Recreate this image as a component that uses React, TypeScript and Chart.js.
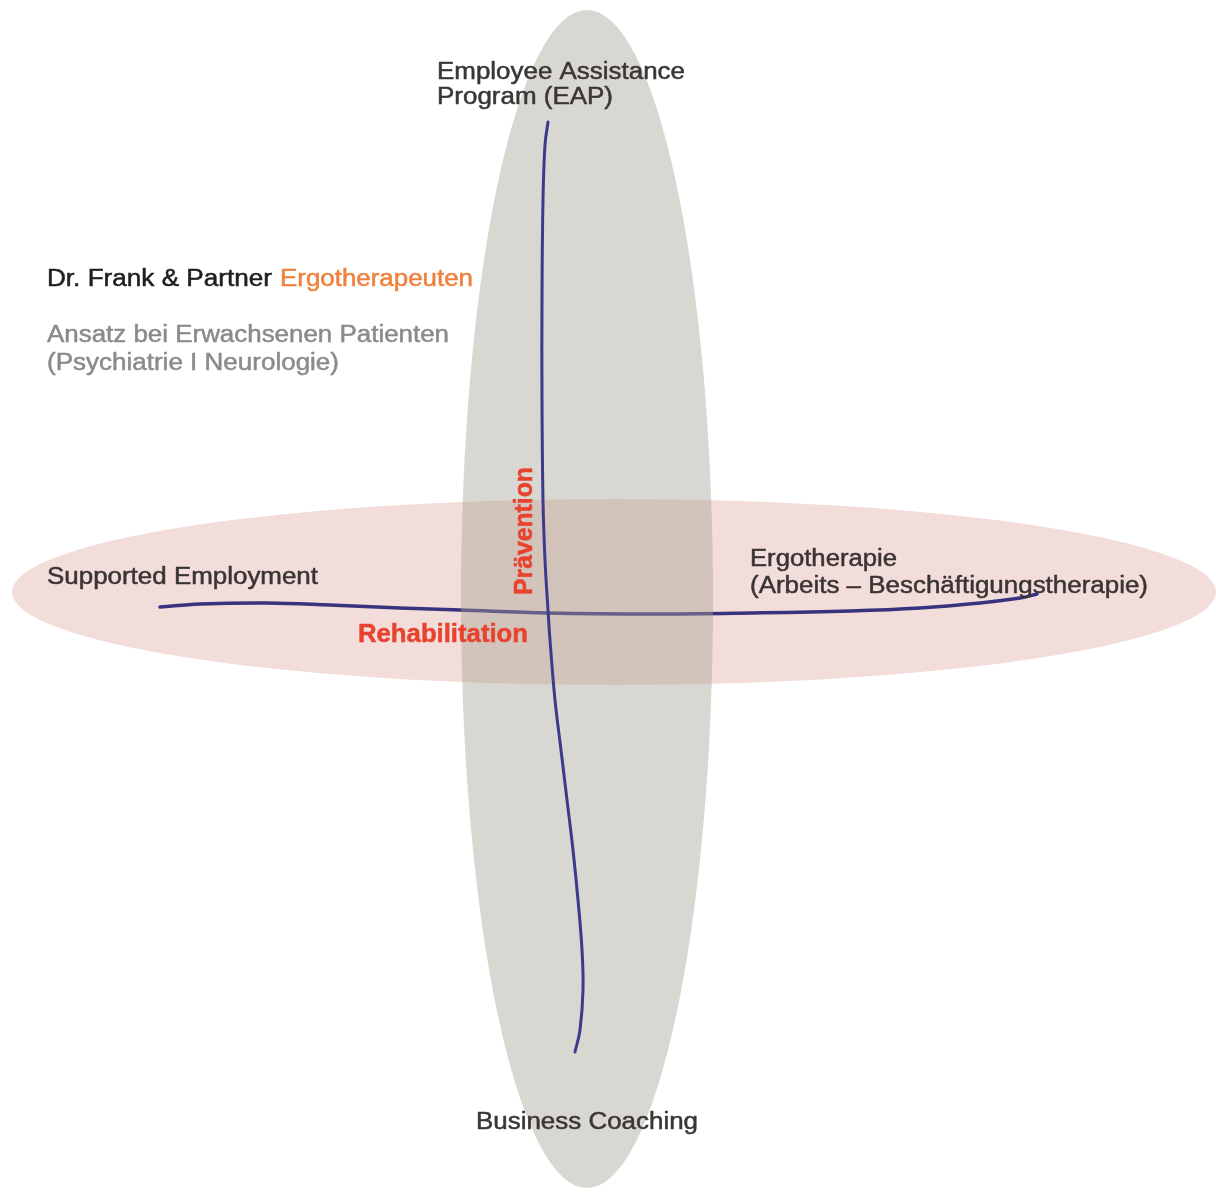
import { useEffect, useRef } from "react";
import { Chart, registerables } from "chart.js";

Chart.register(...registerables);

const W = 1216;
const H = 1193;

// Hand-drawn vertical stroke (Prävention axis)
const verticalX = [548, 545, 543, 542, 542, 543, 545, 548, 550, 555, 561, 567, 573, 578, 582, 583, 580, 575];
const verticalY = [122, 145, 200, 300, 400, 500, 560, 610, 640, 700, 750, 800, 850, 900, 950, 990, 1030, 1052];

// Hand-drawn horizontal stroke (Rehabilitation axis)
const horizontalX = [160, 200, 267, 330, 400, 460, 548, 650, 750, 850, 920, 980, 1020, 1037];
const horizontalY = [607, 604, 603, 605, 608, 610, 613, 614, 613, 611, 608, 603, 598, 594];

// Ellipses: [Rehabilitation, Prävention]
const ellipseNames = ["Rehabilitation", "Prävention"];
const ellipseCX = [614, 587];
const ellipseCY = [592, 599];
const ellipseRX = [602, 126];
const ellipseRY = [93, 589];

// Label texts
const labelTexts = [
  "Employee Assistance",
  "Program (EAP)",
  "Dr. Frank & Partner",
  "Ergotherapeuten",
  "Ansatz bei Erwachsenen Patienten",
  "(Psychiatrie I Neurologie)",
  "Supported Employment",
  "Ergotherapie",
  "(Arbeits – Beschäftigungstherapie)",
  "Rehabilitation",
  "Prävention",
  "Business Coaching",
];

// Layout of labels: left x, baseline y, font size, weight, colour, target width, rotated
const labelLayout = [
  { x: 437, y: 79, size: 23.5, weight: "400", color: "#3a3636", w: 248, rot: false },
  { x: 437, y: 104, size: 23.5, weight: "400", color: "#3a3636", w: 176, rot: false },
  { x: 47, y: 286, size: 23.5, weight: "400", color: "#1e1e1e", w: 225, rot: false },
  { x: 280, y: 286, size: 23.5, weight: "400", color: "#f0803c", w: 193, rot: false },
  { x: 47, y: 342, size: 23.5, weight: "400", color: "#8c8a8a", w: 402, rot: false },
  { x: 47, y: 370, size: 23.5, weight: "400", color: "#8c8a8a", w: 292, rot: false },
  { x: 47, y: 584, size: 23.5, weight: "400", color: "#3a3434", w: 271, rot: false },
  { x: 750, y: 566, size: 23.5, weight: "400", color: "#3a3434", w: 147, rot: false },
  { x: 750, y: 593, size: 23.5, weight: "400", color: "#3a3434", w: 398, rot: false },
  { x: 358, y: 642, size: 25, weight: "700", color: "#e8432f", w: 170, rot: false },
  { x: 532, y: 595, size: 25.5, weight: "700", color: "#e8432f", w: 128, rot: true },
  { x: 476, y: 1129, size: 23.5, weight: "400", color: "#3a3636", w: 222, rot: false },
];

const ellipseFill = ["#f3ddda", "rgba(165,160,145,0.42)"];

function drawEllipse(chart: any, i: number) {
  const { ctx, scales } = chart;
  const xs = scales.x;
  const ys = scales.y;
  const cx = xs.getPixelForValue(ellipseCX[i]);
  const cy = ys.getPixelForValue(ellipseCY[i]);
  const rx = Math.abs(xs.getPixelForValue(ellipseCX[i] + ellipseRX[i]) - cx);
  const ry = Math.abs(ys.getPixelForValue(ellipseCY[i] + ellipseRY[i]) - cy);
  ctx.save();
  ctx.beginPath();
  ctx.ellipse(cx, cy, rx, ry, 0, 0, Math.PI * 2);
  ctx.fillStyle = ellipseFill[i];
  ctx.fill();
  ctx.restore();
}

const diagramPlugin = {
  id: "diagram",
  beforeDatasetsDraw(chart: any) {
    drawEllipse(chart, 0);
  },
  afterDatasetDraw(chart: any, args: any) {
    const ds = chart.data.datasets[args.index];
    if (ds && ds.label === "Rehabilitation-Linie") drawEllipse(chart, 1);
  },
  afterDatasetsDraw(chart: any) {
    const { ctx, scales } = chart;
    labelTexts.forEach((text, i) => {
      const L = labelLayout[i];
      const x = scales.x.getPixelForValue(L.x);
      const y = scales.y.getPixelForValue(L.y);
      ctx.save();
      ctx.font = `${L.weight} ${L.size}px "Liberation Sans", Arial, Helvetica, sans-serif`;
      ctx.fillStyle = L.color;
      ctx.strokeStyle = L.color;
      ctx.lineWidth = 0.5;
      ctx.lineJoin = "round";
      ctx.textBaseline = "alphabetic";
      ctx.textAlign = "left";
      ctx.filter = "blur(0.45px)";
      ctx.translate(x, y);
      if (L.rot) ctx.rotate(-Math.PI / 2);
      const m = ctx.measureText(text).width;
      ctx.scale(L.w / m, 1);
      ctx.fillText(text, 0, 0);
      ctx.strokeText(text, 0, 0);
      ctx.restore();
    });
  },
};

export default function App() {
  const ref = useRef<HTMLCanvasElement | null>(null);
  useEffect(() => {
    document.body.style.margin = "0";
    if (!ref.current) return;
    const chart = new Chart(ref.current, {
      type: "scatter",
      data: {
        datasets: [
          {
            label: "Prävention-Linie",
            data: verticalX.map((x, i) => ({ x, y: verticalY[i] })),
            showLine: true,
            borderColor: "#3d3a8c",
            borderWidth: 3,
            tension: 0.4,
            pointRadius: 0,
            borderCapStyle: "round",
            order: 1,
          },
          {
            label: "Rehabilitation-Linie",
            data: horizontalX.map((x, i) => ({ x, y: horizontalY[i] })),
            showLine: true,
            borderColor: "#37337f",
            borderWidth: 3.5,
            tension: 0.4,
            pointRadius: 0,
            borderCapStyle: "round",
            order: 2,
          },
        ],
      },
      options: {
        animation: false,
        responsive: false,
        maintainAspectRatio: false,
        devicePixelRatio: 1,
        layout: { padding: 0 },
        scales: {
          x: { type: "linear", min: 0, max: W, display: false },
          y: { type: "linear", min: 0, max: H, reverse: true, display: false },
        },
        plugins: {
          legend: { display: false },
          tooltip: { enabled: false },
        },
        events: [],
      },
      plugins: [diagramPlugin],
    });
    return () => chart.destroy();
  }, []);
  return (
    <div style={{ position: "absolute", left: 0, top: 0, width: W, height: H, background: "#fff" }}>
      <canvas ref={ref} width={W} height={H} style={{ display: "block", width: W, height: H }} />
    </div>
  );
}
